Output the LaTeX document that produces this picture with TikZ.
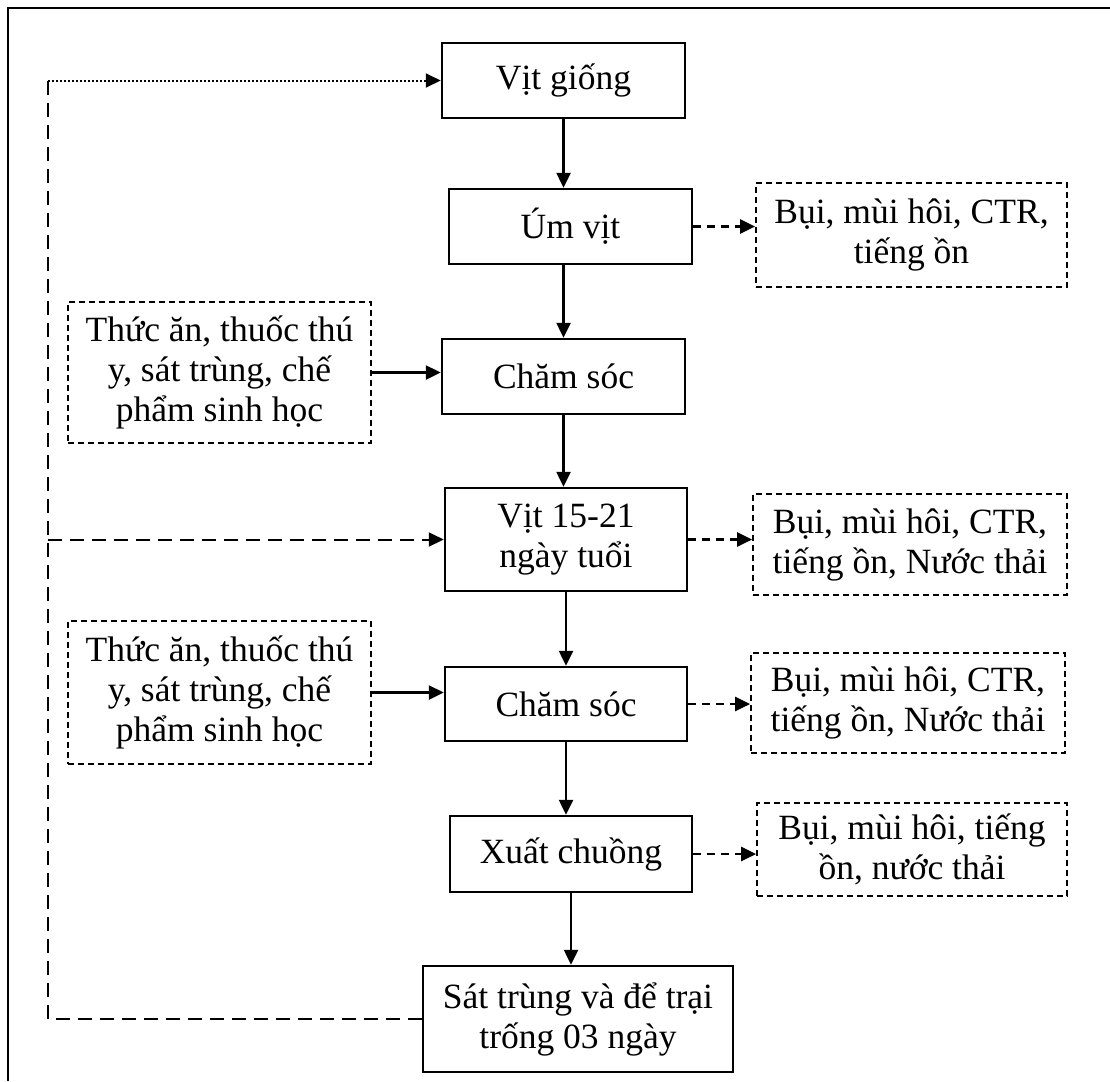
\documentclass[tikz,border=0pt]{standalone}
\usepackage{fontspec}
\setmainfont{Liberation Serif}
\usetikzlibrary{arrows.meta}
\tikzset{
  stepbox/.style={draw,line width=1pt,align=center,inner sep=0pt},
  sidebox/.style={draw,dash pattern=on 2.4pt off 1.6pt,line width=0.7pt,align=center,inner sep=0pt},
  flow/.style={-{Triangle[length=6pt,width=5.6pt]},line width=1pt},
  emit/.style={flow,dash pattern=on 3.2pt off 2.4pt},
  loopline/.style={line width=0.8pt,dash pattern=on 5.6pt off 3.2pt},
}
\begin{document}
\begin{tikzpicture}[x=0.4pt,y=-0.4pt]
  \fontsize{14.2}{16}\selectfont
  \useasboundingbox (0,0) rectangle (1110,1081);
  \draw[line width=1pt] (8,1081) -- (8,8) -- (1110,8);
  % main steps
  \node[stepbox,minimum width=97.2pt,minimum height=30pt] (vg) at (563.5,80.5) {Vịt giống};
  \node[stepbox,minimum width=97.2pt,minimum height=30pt] (um) at (570.5,226.5) {Úm vịt};
  \node[stepbox,minimum width=97.2pt,minimum height=30pt] (cs1) at (563.5,376.5) {Chăm sóc};
  \node[stepbox,minimum width=96.8pt,minimum height=41.2pt] (v15) at (566,539.5) {Vịt 15-21\\ngày tuổi};
  \node[stepbox,minimum width=96.8pt,minimum height=29.6pt] (cs2) at (566,704) {Chăm sóc};
  \node[stepbox,minimum width=96.8pt,minimum height=30.4pt] (xc) at (571,854) {Xuất chuồng};
  \node[stepbox,minimum width=124pt,minimum height=42.4pt] (st) at (578,1019) {Sát trùng và để trại\\trống 03 ngày};
  % inputs
  \node[sidebox,minimum width=121.2pt,minimum height=56.4pt] (in1) at (219.5,372.5) {Thức ăn, thuốc thú\\y, sát trùng, chế\\phẩm sinh học};
  \node[sidebox,minimum width=121.2pt,minimum height=57.2pt] (in2) at (219.5,692.5) {Thức ăn, thuốc thú\\y, sát trùng, chế\\phẩm sinh học};
  % outputs
  \node[sidebox,minimum width=124.4pt,minimum height=41.6pt] (o1) at (911.5,235) {Bụi, mùi hôi, CTR,\\tiếng ồn};
  \node[sidebox,minimum width=125.6pt,minimum height=40.4pt] (o2) at (910,544.5) {Bụi, mùi hôi, CTR,\\tiếng ồn, Nước thải};
  \node[sidebox,minimum width=125.6pt,minimum height=40pt] (o3) at (908,703) {Bụi, mùi hôi, CTR,\\tiếng ồn, Nước thải};
  \node[sidebox,minimum width=124pt,minimum height=37.2pt] (o4) at (912,849.5) {Bụi, mùi hôi, tiếng\\ồn, nước thải};
  \coordinate (lp) at (48,80.5);
  % flow
  \draw[flow] (vg.south) -- (vg.south |- um.north);
  \draw[flow] (um.south -| vg.south) -- (cs1.north);
  \draw[flow] (cs1.south) -- (cs1.south |- v15.north);
  \draw[flow] (v15.south) -- (v15.south |- cs2.north);
  \draw[flow] (cs2.south) -- (cs2.south |- xc.north);
  \draw[flow] (xc.south) -- (xc.south |- st.north);
  \draw[flow] (in1.east) -- (in1.east -| cs1.west);
  \draw[flow] (in2.east) -- (in2.east -| cs2.west);
  \draw[emit] (um.east) -- (um.east -| o1.west);
  \draw[emit] (v15.east) -- (v15.east -| o2.west);
  \draw[emit] (cs2.east) -- (cs2.east -| o3.west);
  \draw[emit] (xc.east) -- (xc.east -| o4.west);
  % return loop
  \draw[loopline] (st.west) -| (lp);
  \draw[loopline,-{Triangle[length=6pt,width=5.6pt]}] (lp |- v15.west) -- (v15.west);
  \draw[line width=0.8pt,dash pattern=on 0.8pt off 0.8pt,-{Triangle[length=6pt,width=5.6pt]}] (lp) -- (vg.west);
\end{tikzpicture}
\end{document}
